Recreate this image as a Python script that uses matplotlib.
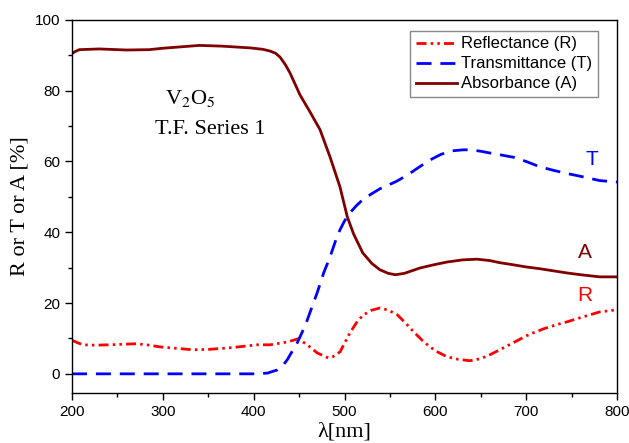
import matplotlib
matplotlib.use("Agg")
import matplotlib.pyplot as plt

# values
wl_R = [200, 205, 212, 225, 242, 260, 271, 285, 297, 315, 333, 350, 371, 390, 404,
        418, 437, 449, 459, 470, 482, 487, 495, 506, 514, 521, 530, 539, 548, 558,
        567, 576, 585, 594, 603, 613, 625, 638, 650, 660, 671, 685, 700, 708, 720,
        735, 745, 760, 781, 800]
refl = [9.5, 8.9, 8.2, 8.1, 8.2, 8.4, 8.5, 8.1, 7.6, 7.2, 6.8, 6.9, 7.3, 7.8, 8.2,
        8.2, 9.0, 9.9, 8.2, 5.9, 4.5, 4.8, 6.2, 11.6, 14.8, 16.7, 18.0, 18.6, 18.0, 16.7,
        14.4, 11.9, 9.6, 7.6, 6.1, 4.8, 4.1, 3.7, 4.3, 5.4, 6.8, 8.7, 10.7, 11.6, 12.8,
        14.0, 14.7, 15.9, 17.5, 18.1]

wl_T = [200, 250, 300, 350, 400, 415, 426, 432, 437, 442, 448, 457, 465, 470, 477,
        484, 490, 495, 500, 506, 513, 520, 530, 539, 548, 558, 570, 582, 594, 606,
        618, 631, 638, 650, 662, 671, 686, 700, 715, 730, 745, 760, 781, 800]
trans = [0.0, 0.0, 0.0, 0.0, 0.0, 0.2, 1.1, 2.3, 4.0, 6.2, 8.8, 13.8, 19.5, 23.0, 28.5,
         33.0, 37.5, 40.7, 43.2, 45.5, 47.5, 49.2, 50.9, 52.3, 53.3, 54.5, 56.3, 58.4, 60.4, 62.0,
         63.0, 63.3, 63.3, 62.9, 62.3, 61.9, 61.2, 60.0, 58.5, 57.5, 56.6, 55.8, 54.6, 54.2]

wl_A = [200, 203, 208, 230, 260, 285, 300, 320, 340, 365, 396, 410, 418, 424, 429,
        435, 440, 451, 462, 473, 484, 495, 503, 510, 520, 530, 539, 548, 556, 566,
        583, 598, 613, 630, 646, 660, 671, 686, 700, 715, 730, 745, 760, 781, 800]
absorb = [90.5, 91.0, 91.6, 91.8, 91.5, 91.6, 92.0, 92.4, 92.8, 92.6, 92.1, 91.7, 91.2, 90.6, 89.5,
          87.3, 85.0, 78.8, 74.0, 69.0, 61.3, 52.8, 44.4, 39.5, 34.2, 31.2, 29.4, 28.4, 28.0, 28.4,
          29.9, 30.8, 31.6, 32.2, 32.4, 32.0, 31.4, 30.8, 30.2, 29.7, 29.1, 28.5, 28.0, 27.4, 27.4]

fig = plt.figure(figsize=(6.29, 4.43), dpi=100)
ax = fig.add_axes([0.1145, 0.113, 0.8665, 0.842])

ax.plot(wl_R, refl, color="red", lw=2, ls=(0, (3.6, 1.5, 0.9, 1.5, 0.9, 1.5)),
        label="Reflectance (R)")
ax.plot(wl_T, trans, color="blue", lw=2, ls=(0, (5.4, 3.2)),
        label="Transmittance (T)")
ax.plot(wl_A, absorb, color="#800000", lw=2, label="Absorbance (A)")

ax.set_xlim(200, 800)
ax.set_ylim(-5.4, 100)
ax.set_xticks([200, 300, 400, 500, 600, 700, 800])
ax.set_xticks([250, 350, 450, 550, 650, 750], minor=True)
ax.set_yticks([0, 20, 40, 60, 80, 100])
ax.set_yticks([10, 30, 50, 70, 90], minor=True)
ax.tick_params(which="both", direction="out", top=False, right=False,
               labelsize=11, width=1)
ax.tick_params(which="major", length=5)
ax.tick_params(which="minor", length=3)
for lab in ax.get_xticklabels() + ax.get_yticklabels():
    lab.set_fontfamily("Liberation Sans")
for s in ax.spines.values():
    s.set_linewidth(1.0)

ax.set_xlabel("λ[nm]", family="Liberation Serif", fontsize=16, labelpad=3)
ax.set_ylabel("R or T or A [%]", family="Liberation Serif", fontsize=16, labelpad=4)

ax.text(0.17, 0.775, "V$_2$O$_5$", transform=ax.transAxes, family="Liberation Serif",
        fontsize=16, math_fontfamily="stix")
ax.text(0.152, 0.695, "T.F. Series 1", transform=ax.transAxes, family="Liberation Serif",
        fontsize=16)

ax.text(772, 60.5, "T", color="blue", ha="center", va="center",
        family="Liberation Sans", fontsize=15)
ax.text(765, 34.2, "A", color="#800000", ha="center", va="center",
        family="Liberation Sans", fontsize=15)
ax.text(764, 22.0, "R", color="red", ha="center", va="center",
        family="Liberation Sans", fontsize=15)

leg = ax.legend(loc="upper right", bbox_to_anchor=(0.975, 0.985),
                prop={"family": "Liberation Sans", "size": 12},
                fancybox=False, edgecolor="#888888", framealpha=1,
                handlelength=2.5, borderpad=0.35, labelspacing=0.3,
                handletextpad=0.25, borderaxespad=0.3)
leg.get_frame().set_linewidth(1.0)

fig.savefig("out.png", dpi=100)
